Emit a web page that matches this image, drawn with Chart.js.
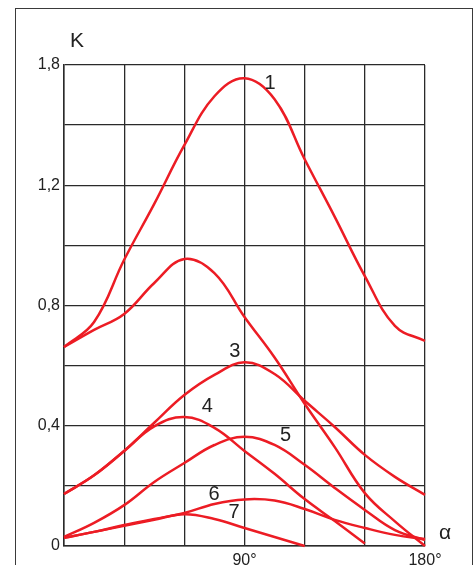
<!DOCTYPE html>
<html lang="ru">
<head>
    <meta charset="UTF-8">
    <title>K(α)</title>
    <script src="https://cdn.jsdelivr.net/npm/chart.js"></script>
    <style>
        body { margin: 0; background: #fff; }
        #wrap { position: relative; width: 475px; height: 565px; overflow: hidden; }
        #frame { position: absolute; left: 15px; top: 8px; width: 456px; height: 600px; border: 1px solid #3a3a3a; }
        #chart { position: absolute; left: 0; top: 0; }
    </style>
</head>
<body>
<div id="wrap">
    <div id="frame"></div>
    <canvas id="chart" width="475" height="565"></canvas>
</div>
<script>
    // угол α, градусы
    const alpha = [0, 15, 30, 45, 60, 75, 90, 105, 120, 135, 150, 165, 180];

    // значения K для кривых 1..7 (null - кривая закончилась)
    const k1 = [0.662, 0.745, 0.952, 1.138, 1.40, 1.644, 1.734, 1.629, 1.33, 1.095, 0.898, 0.732, 0.682];
    const k2 = [0.662, 0.719, 0.772, 0.875, 0.955, 0.908, 0.762, 0.627, 0.473, 0.329, 0.176, 0.082, 0.0];
    const k3 = [0.173, 0.235, 0.316, 0.41, 0.502, 0.569, 0.611, 0.572, 0.483, 0.396, 0.303, 0.230, 0.170];
    const k4 = [0.173, 0.235, 0.316, 0.398, 0.429, 0.393, 0.316, 0.240, 0.156, 0.083, 0.008, null, null];
    const k5 = [0.030, 0.077, 0.136, 0.213, 0.276, 0.336, 0.363, 0.336, 0.270, 0.193, 0.120, 0.053, 0.020];
    const k6 = [0.027, 0.047, 0.070, 0.090, 0.110, 0.140, 0.155, 0.151, 0.123, 0.087, 0.060, 0.037, 0.023];
    const k7 = [0.027, 0.047, 0.067, 0.087, 0.106, 0.090, 0.060, 0.030, 0.0, null, null, null, null];

    // номера кривых: [α, K, текст]
    const curveLabels = [
        [102.7, 1.71, '1'],
        [85.2, 0.646, '3'],
        [71.5, 0.465, '4'],
        [110.5, 0.366, '5'],
        [74.8, 0.172, '6'],
        [84.8, 0.112, '7']
    ];

    // подписи оси K стоят на равных клетках сетки, но шаг у верхней клетки другой
    const yTickValues = [0, 0.4, 0.8, 1.2, 1.8];
    const yTickLabels = ['0', '0,4', '0,8', '1,2', '1,8'];
    const xTickLabels = { 90: '90°', 180: '180°' };

    // K -> деления сетки (по 2 клетки на подпись)
    function toGrid(k) {
        for (let i = 1; i < yTickValues.length; i++) {
            if (k <= yTickValues[i] || i === yTickValues.length - 1) {
                const a = yTickValues[i - 1], b = yTickValues[i];
                return 2 * (i - 1) + 2 * (k - a) / (b - a);
            }
        }
    }

    const RED = '#ec1c24';
    const font = '"Liberation Sans", Arial, sans-serif';

    const series = [k1, k2, k3, k4, k5, k6, k7];
    const datasets = series.map((ks, n) => ({
        label: String(n + 1),
        data: alpha.map((a, i) => ks[i] === null ? null : { x: a, y: toGrid(ks[i]) }).filter(p => p),
        borderColor: RED,
        borderWidth: 2.5,
        pointRadius: 0,
        tension: 0.4,
        clip: false
    }));

    const textPlugin = {
        id: 'texts',
        afterDatasetsDraw(chart) {
            const { ctx, chartArea, scales } = chart;
            ctx.save();
            ctx.fillStyle = '#222';
            ctx.textAlign = 'center';
            ctx.textBaseline = 'middle';
            ctx.font = '20px ' + font;
            curveLabels.forEach(([a, k, t]) => {
                ctx.fillText(t, scales.x.getPixelForValue(a), scales.y.getPixelForValue(toGrid(k)));
            });
            ctx.font = '21px ' + font;
            ctx.fillText('K', chartArea.left + 13, chartArea.top - 24);
            ctx.fillText('α', chartArea.right + 20, chartArea.bottom - 13);
            ctx.restore();
        }
    };

    new Chart(document.getElementById('chart'), {
        type: 'line',
        data: { datasets },
        options: {
            responsive: false,
            animation: false,
            layout: { padding: { left: 0, top: 65, right: 50, bottom: 0 } },
            plugins: { legend: { display: false }, tooltip: { enabled: false } },
            scales: {
                x: {
                    type: 'linear',
                    min: 0,
                    max: 180,
                    afterFit: s => { s.height = 19; },
                    ticks: {
                        stepSize: 30,
                        padding: 5,
                        color: '#222',
                        font: { family: font, size: 16 },
                        maxRotation: 0,
                        autoSkip: false,
                        callback: v => xTickLabels[v] || ''
                    },
                    grid: { color: '#2a2a2a', lineWidth: 1.3, drawTicks: false },
                    border: { color: '#2a2a2a', width: 1.5 }
                },
                y: {
                    min: 0,
                    max: 8,
                    afterFit: s => { s.width = 64; },
                    ticks: {
                        stepSize: 1,
                        padding: 4,
                        color: '#222',
                        font: { family: font, size: 16 },
                        callback: v => (v % 2 === 0 ? yTickLabels[v / 2] : '')
                    },
                    grid: { color: '#2a2a2a', lineWidth: 1.3, drawTicks: false },
                    border: { color: '#2a2a2a', width: 1.5 }
                }
            }
        },
        plugins: [textPlugin]
    });
</script>
</body>
</html>
